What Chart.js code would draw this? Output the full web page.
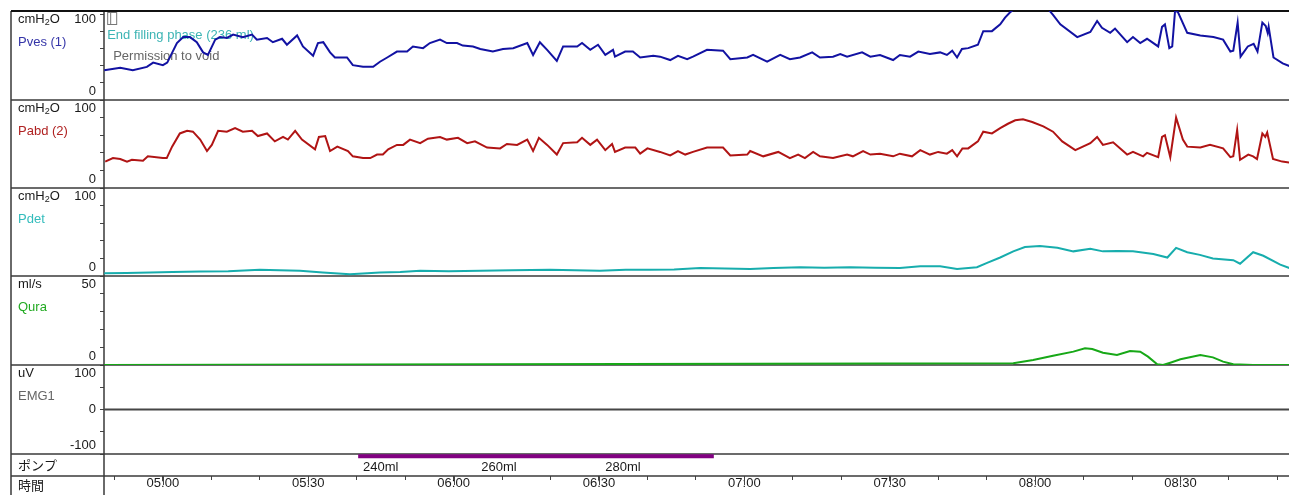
<!DOCTYPE html>
<html>
<head>
<meta charset="utf-8">
<title>Urodynamic study</title>
<script src="https://cdn.jsdelivr.net/npm/chart.js@4.4.1/dist/chart.umd.min.js"></script>
<style>
  html, body { margin: 0; padding: 0; background: #fff; }
  #wrap { width: 1289px; height: 495px; }
</style>
</head>
<body>
<div id="wrap"><canvas id="uroChart" width="1289" height="495"></canvas></div>
<script>
// all times are seconds from start of the recording
const pvesTime = [287.9,291.2,293.8,296.7,298.0,300.0,300.9,302.9,304.2,305.6,
  307.0,308.3,309.3,310.8,311.8,313.2,314.5,316.5,318.4,319.4,
  321.5,322.7,324.6,325.6,327.7,328.9,331.0,332.0,333.1,334.5,
  335.5,338.0,339.2,341.3,343.4,344.8,346.3,348.3,350.4,351.6,
  353.7,355.1,357.2,358.6,360.7,361.9,364.0,365.5,368.1,370.2,
  372.3,375.2,376.4,377.8,379.3,381.3,382.6,385.5,386.5,388.2,
  389.8,391.3,392.9,393.3,395.4,397.0,398.5,401.2,402.6,404.7,
  406.3,408.2,409.4,412.3,415.6,417.1,420.6,421.8,424.7,427.4,
  429.4,431.5,434.0,435.6,438.3,439.8,441.2,444.3,446.0,448.0,
  450.7,452.1,454.2,455.9,458.3,460.4,461.8,462.9,463.9,464.9,
  466.2,468.2,469.3,471.1,472.8,473.8,474.8,475.9,479.0,482.0,
  483.7,485.2,488.7,491.4,492.8,493.8,495.5,496.5,499.0,500.2,
  501.7,503.1,505.4,506.2,506.8,507.7,508.3,508.9,509.5,511.4,
  514.1,516.8,518.8,520.3,520.9,521.8,522.4,523.9,525.1,525.9,
  526.9,527.6,528.0,528.2,529.2,531.1,532.5];
const pvesVal = [35,38,35,39,44,41,44,67,74,74,
  68,56,53,71,74,73,77,74,77,71,
  73,68,72,65,76,63,52,67,68,56,
  50,50,41,39,39,45,50,57,57,63,
  61,67,71,67,67,64,63,60,57,60,
  61,67,53,68,59,46,63,63,67,59,
  65,53,59,51,57,57,50,52,51,47,
  52,48,51,59,58,48,50,53,45,53,
  48,50,56,50,51,54,51,56,51,53,
  47,53,51,57,54,56,53,58,50,60,
  61,65,81,81,89,97,103,108,115,112,
  100,89,74,80,93,85,79,84,68,74,
  67,72,63,86,89,61,63,106,103,79,
  76,74,71,57,58,91,51,63,66,57,
  91,87,79,86,50,43,40];

const pabdTime = [288.1,289.7,291.2,292.6,293.6,295.9,296.9,300.0,300.8,301.9,
  303.5,305.0,306.2,307.7,309.1,310.1,311.4,313.2,314.9,316.5,
  318.4,319.6,321.5,323.1,324.8,325.8,327.3,328.7,331.4,332.2,
  333.5,334.5,336.0,338.2,339.2,341.3,342.8,344.2,345.4,346.5,
  348.3,349.6,351.0,353.1,354.7,357.2,358.6,360.9,362.8,364.4,
  366.9,369.6,371.0,373.1,375.2,376.4,377.6,379.3,381.3,382.6,
  385.5,386.5,388.2,389.6,391.3,392.7,393.3,395.4,397.5,398.5,
  400.0,402.6,404.7,406.3,407.8,409.4,412.3,415.6,417.1,420.6,
  421.2,423.9,427.0,429.4,431.1,432.5,434.2,435.6,438.3,441.2,
  442.4,444.5,446.0,448.0,450.7,452.1,454.6,456.3,458.3,460.0,
  461.8,462.9,463.9,465.0,466.2,468.2,469.3,471.1,472.8,474.4,
  475.9,477.5,479.4,481.7,483.7,485.6,488.3,491.4,492.8,494.0,
  496.1,499.0,500.2,502.3,503.1,505.4,506.2,506.8,507.9,509.1,
  510.5,511.4,514.1,516.1,518.8,520.3,520.9,521.7,522.3,524.0,
  525.0,525.8,526.9,527.5,527.9,529.1,531.0,532.5];
const pabdVal = [30,34,33,30,32,31,36,34,34,47,
  62,65,64,55,42,49,65,64,68,64,
  65,59,62,53,58,55,65,55,44,58,
  59,42,47,42,36,34,34,38,38,44,
  49,49,55,51,56,58,55,57,51,53,
  46,45,50,49,55,42,57,49,38,51,
  52,57,49,55,43,50,41,46,46,39,
  45,41,37,42,38,41,46,46,37,38,
  42,36,41,34,38,34,41,36,34,38,
  36,42,38,39,36,39,36,43,38,41,
  39,43,36,45,45,53,64,62,68,73,
  77,78,75,70,64,53,43,51,58,49,
  52,38,41,36,40,35,58,60,35,80,
  55,47,46,49,45,35,36,66,32,38,
  36,33,62,58,63,33,30,29];

const pdetTime = [287.9,292.5,297.4,302.0,307.7,313.5,320.0,324.0,328.3,333.0,
  338.6,344.8,349.0,353.1,359.0,365.5,372.0,379.9,385.0,390.2,
  395.5,400.5,405.5,410.9,416.0,421.2,426.0,431.5,436.5,441.8,
  447.0,452.1,456.3,460.4,463.9,468.0,470.1,472.8,475.5,477.9,
  481.0,484.6,487.9,491.4,494.0,497.0,500.2,504.4,507.3,509.1,
  511.4,514.0,516.7,520.9,522.3,525.0,527.1,530.6,532.5];
const pdetVal = [3,3.5,4,4.5,5,5.5,7,6.5,6,4,
  2,4,4.5,6,5.5,6,6.5,7,6.5,6,
  7,7,7.5,9,8.5,8,9,10,9.5,10,
  9.5,9,11,11,8,10,15,21,28,33,
  34,32,28,31,28,28.5,28,25,21,32,
  27,24,20,18,14,27,23,13,9];

const quraTime = [287.9,475.5,479.6,483.7,487.9,490.3,491.8,494.0,496.9,499.6,501.7,
  503.3,505.2,506.4,507.9,510.0,514.1,516.7,518.8,520.9,525.0,532.5];
const quraVal = [0,1,2.8,5.2,7.5,9.4,9,6.9,5.6,7.9,7.5,
  4.7,0.4,0,1.3,3.2,5.6,4.3,1.9,0.4,0,0];
const voidTime = [475.5, 525.0];
const voidVal = [0, 0];

const emgTime = [287.9, 532.5];
const emgVal = [0, 0];

const pumpTime = [340.3, 413.7];
const pumpVal = [0.9, 0.9];
const pumpLabelTime = [341.3, 365.7, 391.3];
const pumpLabels = ['240ml', '260ml', '280ml'];

const timeTickSec = [300, 330, 360, 390, 420, 450, 480, 510];
const timeTickLabels = ['05:00', '05:30', '06:00', '06:30', '07:00', '07:30', '08:00', '08:30'];

const panelUnits = ['cmH2O', 'cmH2O', 'cmH2O', 'ml/s', 'uV'];
const panelNames = ['Pves (1)', 'Pabd (2)', 'Pdet', 'Qura', 'EMG1'];
const panelTopLabels = ['100', '100', '100', '50', '100'];
const panelBottomLabels = ['0', '0', '0', '0', '-100'];
const rowLabels = ['ポンプ', '時間'];

const eventTime = 288.3;
const eventTexts = ['End filling phase (236 ml)', 'Permission to void'];

const FONT = '"Liberation Sans", Arial, sans-serif';
const JFONT = '"Noto Sans CJK JP", sans-serif';
const nameColors = ['#3535a8', '#b02222', '#33bcbc', '#22aa22', '#666666'];
const axisIds = ['yPves', 'yPabd', 'yPdet', 'yQura', 'yEmg'];

function pts(times, vals) {
  return times.map((t, i) => ({ x: t, y: vals[i] }));
}

function panelAxis(min, max, step, weight, stackWeight) {
  return {
    type: 'linear',
    position: 'left',
    stack: 'uro',
    stackWeight: stackWeight,
    weight: weight,
    min: min,
    max: max,
    ticks: {
      display: step > 0,
      stepSize: step || 1,
      includeBounds: false,
      autoSkip: false,
      color: 'rgba(0,0,0,0)'
    },
    grid: { drawOnChartArea: false, drawTicks: step > 0, tickLength: 4, tickColor: '#444', tickWidth: 1 },
    border: { display: false },
    afterFit: function (axis) { axis.width = 104; }
  };
}

function line(times, vals, color, axis, width, order) {
  return {
    data: pts(times, vals),
    borderColor: color,
    backgroundColor: color,
    borderWidth: width,
    pointRadius: 0,
    tension: 0,
    fill: false,
    yAxisID: axis,
    order: order || 1
  };
}

// draws the unit with the "2" as a subscript (cmH2O)
function drawUnit(ctx, text, x, y) {
  const i = text.indexOf('2');
  if (i < 0) { ctx.fillText(text, x, y); return; }
  const a = text.slice(0, i);
  const b = text.slice(i + 1);
  ctx.fillText(a, x, y);
  const w = ctx.measureText(a).width;
  ctx.font = '9px ' + FONT;
  ctx.fillText('2', x + w, y + 4);
  const w2 = ctx.measureText('2').width;
  ctx.font = '13px ' + FONT;
  ctx.fillText(b, x + w + w2, y);
}

const framePlugin = {
  id: 'frame',
  beforeDatasetsDraw(chart) {
    const ctx = chart.ctx;
    const s = chart.scales;
    const left = 11, axisX = 104, right = chart.width, bottom = chart.height;
    ctx.save();

    // horizontal separators between the channels
    ctx.strokeStyle = '#3a3a3a';
    ctx.lineWidth = 1.5;
    const seps = axisIds.map(id => s[id].bottom).concat([s.x.top]);
    seps.forEach(y => {
      ctx.beginPath();
      ctx.moveTo(left, y);
      ctx.lineTo(right, y);
      ctx.stroke();
    });
    ctx.beginPath();
    ctx.moveTo(left, s.yPves.top);
    ctx.lineTo(left, bottom);
    ctx.moveTo(axisX, s.yPves.top);
    ctx.lineTo(axisX, bottom);
    ctx.stroke();
    ctx.strokeStyle = '#111';
    ctx.lineWidth = 2;
    ctx.beginPath();
    ctx.moveTo(left, s.yPves.top);
    ctx.lineTo(right, s.yPves.top);
    ctx.stroke();

    // major time ticks are longer than the minor ones
    ctx.strokeStyle = '#444';
    ctx.lineWidth = 1;
    timeTickSec.forEach(t => {
      const px = Math.round(s.x.getPixelForValue(t)) + 0.5;
      ctx.beginPath();
      ctx.moveTo(px, s.x.top);
      ctx.lineTo(px, s.x.top + 9);
      ctx.stroke();
    });

    // channel labels on the left
    ctx.font = '13px ' + FONT;
    ctx.textBaseline = 'middle';
    axisIds.forEach((id, i) => {
      const sc = s[id];
      ctx.fillStyle = '#1a1a1a';
      ctx.textAlign = 'left';
      drawUnit(ctx, panelUnits[i], 18, sc.top + 8);
      ctx.textAlign = 'right';
      ctx.fillText(panelTopLabels[i], 96, sc.top + 8);
      ctx.fillText(panelBottomLabels[i], 96, sc.bottom - 9);
      if (sc.min < 0) ctx.fillText('0', 96, sc.getPixelForValue(0));
      ctx.textAlign = 'left';
      ctx.fillStyle = nameColors[i];
      ctx.fillText(panelNames[i], 18, sc.top + 31);
    });
    ctx.fillStyle = '#1a1a1a';
    ctx.font = '13px ' + JFONT;
    ctx.fillText(rowLabels[0], 18, s.yPump.top + 11);
    ctx.fillText(rowLabels[1], 18, (s.x.top + bottom) / 2);

    // pump volume marks
    ctx.font = '13px ' + FONT;
    pumpLabels.forEach((lab, i) => {
      ctx.fillText(lab, s.x.getPixelForValue(pumpLabelTime[i]), s.yPump.top + 13);
    });

    // event marker and notes
    const ex = s.x.getPixelForValue(eventTime);
    ctx.strokeStyle = '#777';
    ctx.lineWidth = 1;
    ctx.strokeRect(ex + 1.5, s.yPves.top + 1.5, 9, 12);
    ctx.beginPath();
    ctx.moveTo(ex + 4.5, s.yPves.top + 1.5);
    ctx.lineTo(ex + 4.5, s.yPves.top + 13.5);
    ctx.stroke();
    ctx.fillStyle = '#3cb4b4';
    ctx.fillText(eventTexts[0], ex + 1, s.yPves.top + 24);
    ctx.fillStyle = '#666';
    ctx.fillText(eventTexts[1], ex + 7, s.yPves.top + 45);
    ctx.restore();
  }
};

const ctx = document.getElementById('uroChart').getContext('2d');
window.uroChart = new Chart(ctx, {
  type: 'line',
  data: {
    datasets: [
      line(pvesTime, pvesVal, '#1212a2', 'yPves', 2),
      line(pabdTime, pabdVal, '#b01414', 'yPabd', 2),
      line(pdetTime, pdetVal, '#17adad', 'yPdet', 2),
      line(voidTime, voidVal, '#444', 'yQura', 1.5, 2),
      line(quraTime, quraVal, '#17a817', 'yQura', 2),
      line(emgTime, emgVal, '#454545', 'yEmg', 2),
      line(pumpTime, pumpVal, '#820082', 'yPump', 4)
    ]
  },
  options: {
    responsive: false,
    devicePixelRatio: 1,
    animation: false,
    layout: { padding: { top: 11, left: 0, right: 0, bottom: 0 } },
    plugins: { legend: { display: false }, tooltip: { enabled: false } },
    scales: {
      x: {
        type: 'linear',
        position: 'bottom',
        min: 287.85,
        max: 532.4,
        ticks: {
          stepSize: 10,
          includeBounds: false,
          autoSkip: false,
          maxRotation: 0,
          padding: -4,
          color: '#1a1a1a',
          font: { family: FONT, size: 13 },
          callback: function (v) {
            const k = timeTickSec.indexOf(Math.round(v));
            return k >= 0 ? timeTickLabels[k] : '';
          }
        },
        grid: {
          drawOnChartArea: false,
          tickLength: 4,
          tickColor: '#444',
          tickWidth: 1
        },
        border: { display: false },
        afterFit: function (axis) { axis.height = 19; }
      },
      yPves: panelAxis(0, 104.7, 20, 6, 89),
      yPabd: panelAxis(0, 100, 20, 5, 88),
      yPdet: panelAxis(0, 100, 20, 4, 88),
      yQura: panelAxis(0, 50, 10, 3, 89),
      yEmg: panelAxis(-100, 100, 50, 2, 89),
      yPump: panelAxis(0, 1, 0, 1, 22)
    }
  },
  plugins: [framePlugin]
});
</script>
</body>
</html>
